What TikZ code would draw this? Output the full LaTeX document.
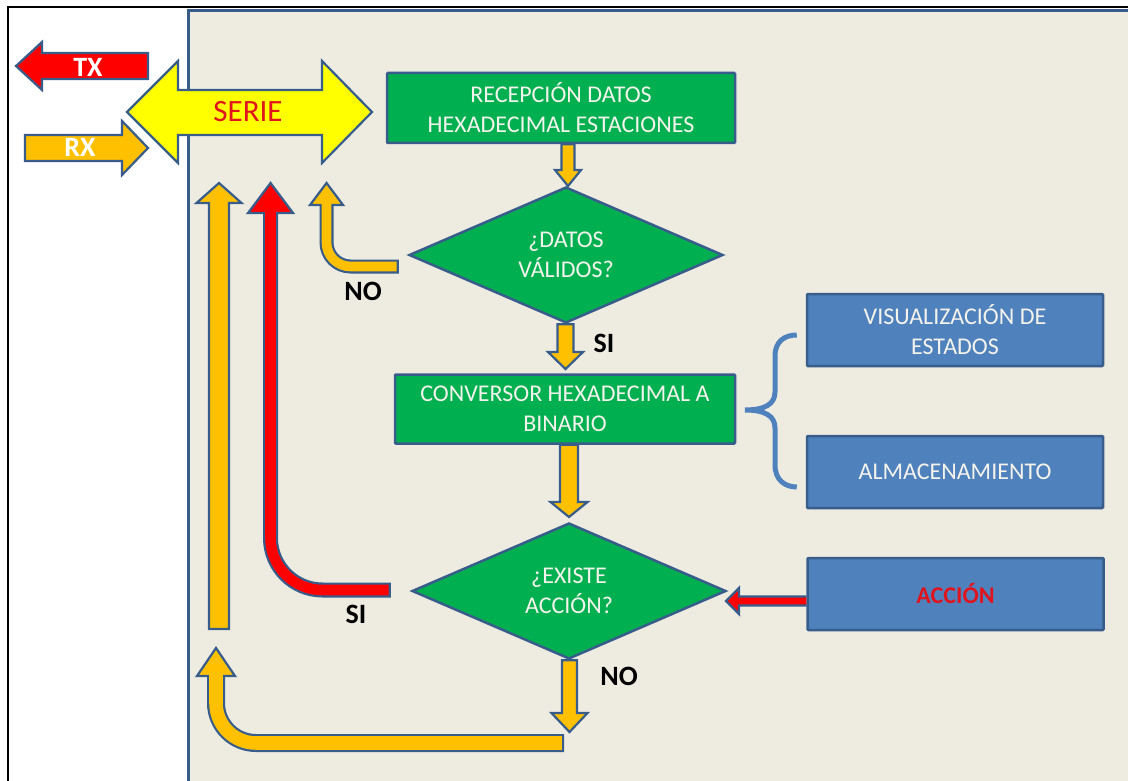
\documentclass[tikz,border=0pt]{standalone}
\usepackage{fontspec}
\setmainfont{Carlito}
\usetikzlibrary{shapes.geometric,calc}

\definecolor{edge}{HTML}{385D8A}
\definecolor{panel}{HTML}{EEECE1}
\definecolor{flowgreen}{HTML}{00B050}
\definecolor{flowblue}{HTML}{4F81BD}
\definecolor{amber}{HTML}{FFC000}
\definecolor{lemon}{HTML}{FFFF00}
\definecolor{signal}{HTML}{FF0000}
\definecolor{labelred}{HTML}{E0141E}
\definecolor{boxtext}{HTML}{F4F3EC}

% straight block arrow pointing down: from, to, shaft half width, head half width, head length, fill
\newcommand\downblock[6]{%
  \draw[blockline,fill=#6] let \p1=(#1),\p2=(#2) in
    (\x2-#3,\y1) -- (\x2+#3,\y1) -- (\x2+#3,\y2+#5) -- (\x2+#4,\y2+#5) -- (\x2,\y2)
    -- (\x2-#4,\y2+#5) -- (\x2-#3,\y2+#5) -- cycle;}

% bent block arrow: tail, tip, outer width, corner radius, head half width, head length, fill
\newcommand\bentblock[7]{%
  \draw[edge,line width=#3,rounded corners=#4]
    (#1) -- (#1 -| #2) -- ($(#2)+(0,#6)$);
  \draw[blockline,fill=#7] (#2) -- ++(#5,#6) -- ++(-2*#5,0) -- cycle;
  \draw[#7,line width=#3-4.4pt,rounded corners=#4]
    ($(#1)+(-2.2,0)$) -- (#1 -| #2) -- ($(#2)+(0,#6-4)$);}

\begin{document}
\begin{tikzpicture}[x=1pt,y=-1pt,
  blockline/.style={draw=edge,line width=2.2pt,line join=miter},
  flowtext/.style={text=boxtext,font=\fontsize{24}{30}\selectfont,align=center,inner sep=0pt},
  greenbox/.style={flowtext,rectangle,draw=edge,line width=2.5pt,fill=flowgreen,rounded corners=1pt},
  bluebox/.style={flowtext,rectangle,draw=edge,line width=2.5pt,fill=flowblue,rounded corners=1pt,
    minimum width=296pt,minimum height=72pt},
  decision/.style={flowtext,diamond,draw=edge,line width=2.5pt,fill=flowgreen,
    minimum width=314pt,minimum height=136pt,aspect=2.3},
  answer/.style={font=\fontsize{28}{30}\selectfont\bfseries,text=black,anchor=base,inner sep=0pt},
  linklabel/.style={font=\fontsize{28}{30}\selectfont\bfseries,text=white,anchor=base,inner sep=0pt}
]
\useasboundingbox (0,0) rectangle (1128,781);
\fill[white] (0,0) rectangle (1128,781);

% frame and panel
\draw[black,line width=2pt] (7.5,7.5) rectangle (1140,790);
\draw[edge,line width=3pt,fill=panel] (188.5,10.5) rectangle (1140,790);

% flow boxes
\node[greenbox,minimum width=348pt,minimum height=70pt] (recv) at (561,108)
  {RECEPCIÓN DATOS\\HEXADECIMAL ESTACIONES};
\node[decision] (valid) at (566,255) {¿DATOS\\VÁLIDOS?};
\node[greenbox,minimum width=340pt,minimum height=69pt] (conv) at (565,409)
  {CONVERSOR HEXADECIMAL A\\BINARIO};
\node[decision] (action) at (569,591) {¿EXISTE\\ACCIÓN?};
\node[bluebox] (vis) at (955,330) {VISUALIZACIÓN DE\\ESTADOS};
\node[bluebox] (store) at (955,472) {ALMACENAMIENTO};
\node[bluebox,font=\fontsize{24}{30}\selectfont\bfseries,text=labelred] (act) at (955.5,594) {ACCIÓN};

% serial link arrows
\draw[blockline,fill=signal] (16,66) -- (42,42) -- (42,53) -- (148,53) -- (148,79)
  -- (42,79) -- (42,90) -- cycle;
\node[linklabel] (tx) at (88,77) {TX};
\draw[blockline,fill=amber] (25,135) -- (122,135) -- (122,121) -- (148,148) -- (122,175)
  -- (122,161) -- (25,161) -- cycle;
\node[linklabel] (rx) at (80,157) {RX};
\draw[blockline,fill=lemon] (127,112) -- (178,61) -- (178,90) -- (322,90) -- (322,61)
  -- (372,112) -- (322,163) -- (322,135) -- (178,135) -- (178,163) -- cycle;
\node[font=\fontsize{31}{34}\selectfont,text=labelred,anchor=base,inner sep=0pt] (serie) at (248,122) {SERIE};

% main flow
\coordinate (a1) at (568,186);
\downblock{recv.south}{a1}{6.5pt}{13pt}{16pt}{amber}
\coordinate (a2) at (565.5,369);
\downblock{valid.south}{a2}{8pt}{17.5pt}{17pt}{amber}
\coordinate (a3) at (569,517);
\downblock{conv.south}{a3}{9pt}{18.5pt}{15pt}{amber}
\coordinate (a4) at (569.5,732);
\downblock{action.south}{a4}{7.5pt}{18pt}{19pt}{amber}

% returns towards the serial link
\coordinate (notail) at ($(valid.west)+(-9,11.5)$);
\coordinate (notip) at (326.5,183);
\bentblock{notail}{notip}{14pt}{24pt}{16.5}{22}{amber}

\coordinate (sitail) at ($(action.west)+(-20,-1)$);
\coordinate (sitip) at (270.5,183);
\bentblock{sitail}{sitip}{15pt}{52pt}{22.5}{30}{signal}

\coordinate (looptail) at (564,743);
\coordinate (looptip) at (216,648);
\bentblock{looptail}{looptip}{18pt}{40pt}{19}{28}{amber}

\coordinate (uptail) at (219,629);
\coordinate (uptip) at (219,183);
\draw[blockline,fill=amber] (uptail) ++(-10,0) -- ++(20,0) -- ($(uptip)+(10,20)$)
  -- ($(uptip)+(22.5,20)$) -- (uptip) -- ($(uptip)+(-22.5,20)$) -- ($(uptip)+(-10,20)$) -- cycle;

% action request into the decision
\coordinate (acttip) at (726,601);
\draw[blockline,fill=signal] (act.west |- acttip) ++(0,-4.5) -- ($(acttip)+(13,-4.5)$)
  -- ($(acttip)+(13,-13)$) -- (acttip) -- ($(acttip)+(13,13)$) -- ($(acttip)+(13,4.5)$)
  -- ($(act.west |- acttip)+(0,4.5)$);

% outputs of the converter
\coordinate (bracetop) at (vis.west |- 0,335);
\coordinate (bracebot) at (store.west |- 0,487);
\draw[flowblue,line width=5pt] ($(bracetop)+(-9,0)$) .. controls (785,335) and (775,341) .. (775,356)
  -- (775,392) .. controls (775,404) and (765,410) .. (745,410)
  .. controls (765,410) and (775,416) .. (775,428)
  -- (775,465) .. controls (775,480) and (785,487) .. ($(bracebot)+(-9,0)$);

% branch labels
\node[answer] (lno) at (363,300) {NO};
\node[answer] (lsi) at (604,352) {SI};
\node[answer] (rsi) at (356,623) {SI};
\node[answer] (rno) at (619,685) {NO};
\end{tikzpicture}
\end{document}
